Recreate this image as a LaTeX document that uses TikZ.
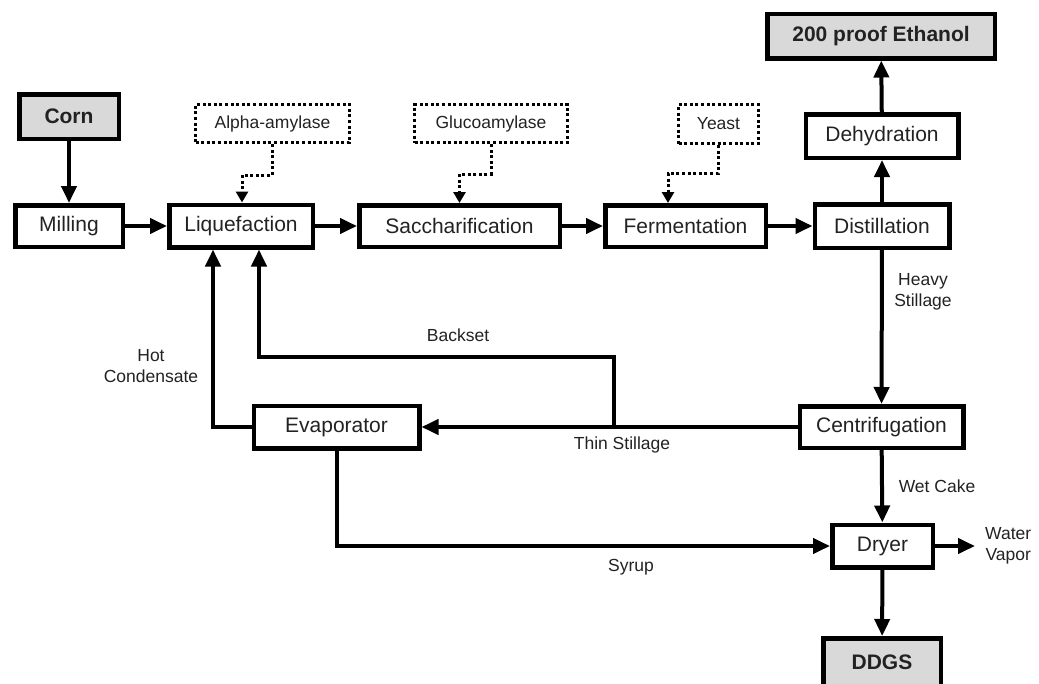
\documentclass[tikz,border=0pt]{standalone}
\usepackage{fontspec}
\setmainfont{Liberation Sans}
\usetikzlibrary{arrows.meta,calc}
\definecolor{txt}{HTML}{222222}
\definecolor{boxgray}{HTML}{D9D9D9}
\begin{document}
\begin{tikzpicture}[x=1pt,y=-1pt,
  proc/.style={draw=black,line width=4.5pt,inner sep=0pt,text=txt,
    font=\fontsize{21}{25}\selectfont},
  prod/.style={proc,fill=boxgray,font=\fontsize{21}{25}\selectfont\bfseries},
  enz/.style={draw=black,line width=3pt,dash pattern=on 3pt off 2.6pt,inner sep=0pt,
    text=txt,font=\fontsize{17.5}{21}\selectfont},
  lbl/.style={inner sep=0pt,text=txt,align=center,font=\fontsize{17.5}{21}\selectfont},
  arr/.style={line width=4pt,-{Triangle[length=17pt,width=15pt]}},
  darr/.style={line width=3pt,dash pattern=on 3pt off 2.6pt,-{Triangle[length=11pt,width=12pt]}},
  sz/.style 2 args={minimum width=#1pt-4.5pt,minimum height=#2pt-4.5pt}
]
\useasboundingbox (0,0) rectangle (1039,683);

% process boxes
\node[prod,sz={104}{49}] (corn) at (69,116.5) {Corn};
\node[proc,sz={112}{46}] (mill) at (69,226) {Milling};
\node[proc,sz={148}{47}] (liq) at (241,226) {Liquefaction};
\node[proc,sz={205}{46}] (sacc) at (459.5,226) {Saccharification};
\node[proc,sz={165}{46}] (ferm) at (685.5,226) {Fermentation};
\node[proc,sz={139}{48}] (dist) at (882,226) {Distillation};
\node[proc,sz={157}{48}] (dehy) at (882,136) {Dehydration};
\node[prod,sz={232}{49}] (eth) at (881,36) {200 proof Ethanol};
\node[proc,sz={170}{47}] (evap) at (336.5,427) {Evaporator};
\node[proc,sz={168}{46}] (cent) at (881.5,427) {Centrifugation};
\node[proc,sz={105}{47}] (dry) at (882.5,546) {Dryer};
\node[prod,sz={122}{52}] (ddgs) at (882,662) {DDGS};

% enzyme boxes
\node[enz,minimum width=154pt,minimum height=38pt] (alpha) at (272.5,123.5) {Alpha-amylase};
\node[enz,minimum width=153pt,minimum height=38pt] (gluco) at (491,123.5) {Glucoamylase};
\node[enz,minimum width=80pt,minimum height=39pt] (yeast) at (718.5,124) {Yeast};

% labels
\node[lbl] (heavy) at (923,292) {Heavy\\Stillage};
\node[lbl] (thin) at (622,445) {Thin Stillage};
\node[lbl] (back) at (458,335) {Backset};
\node[lbl] (hot) at (151,366) {Hot\\Condensate};
\node[lbl] (wet) at (937,486) {Wet Cake};
\node[lbl] (syrup) at (631,567) {Syrup};
\node[lbl,anchor=west] (wv) at (985,546) {Water\\Vapor};

% main line
\draw[arr] (corn) -- (mill);
\draw[arr] (mill) -- (liq);
\draw[arr] (liq) -- (sacc);
\draw[arr] (sacc) -- (ferm);
\draw[arr] (ferm) -- (dist);
\draw[arr] (dist) -- (dehy);
\draw[arr] (dehy) -- (eth);
\draw[arr] (dist) -- (cent);
\draw[arr] (cent) -- (evap);
\coordinate (bs) at ($(evap.east)!0.5!(cent.west)+(4,0)$);
\draw[arr] (bs) -- ++(0,-70) -| ([xshift=18pt]liq.south);
\draw[arr] (evap.west) -| ([xshift=-28pt]liq.south);
\draw[arr] (evap.south) |- (dry.west);
\draw[arr] (cent) -- (dry);
\draw[arr,shorten >=10pt] (dry.east) -- (wv.west);
\draw[arr] (dry) -- (ddgs);

% enzyme feeds
\draw[darr] (alpha.south) -- ++(0,31) -| ([xshift=1pt]liq.north);
\draw[darr] (gluco.south) -- ++(0,30) -| (sacc.north);
\draw[darr] (yeast.south) -- ++(0,28) -| ([xshift=-17.5pt]ferm.north);
\end{tikzpicture}
\end{document}
